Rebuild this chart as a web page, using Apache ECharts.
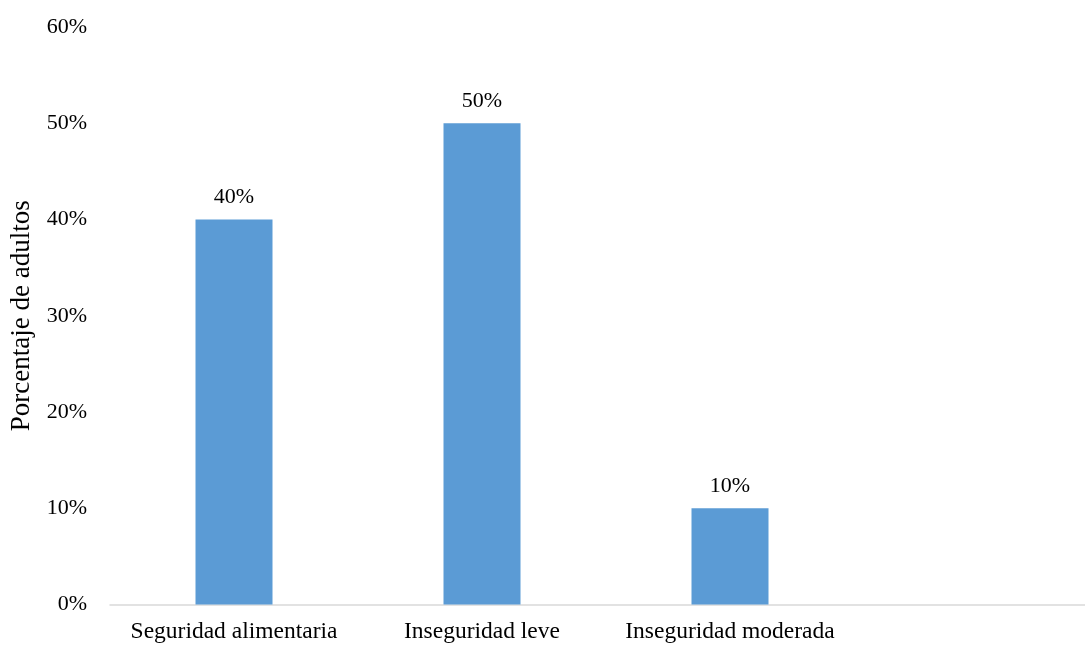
<!DOCTYPE html>
<html>
<head>
<meta charset="utf-8">
<script src="https://cdn.jsdelivr.net/npm/echarts@6/dist/echarts.min.js"></script>
<style>
html,body{margin:0;padding:0;background:#fff;overflow:hidden;}
#chart{width:1085px;height:646px;}
</style>
</head>
<body>
<div id="chart"></div>
<script>
const categories = ["Seguridad alimentaria", "Inseguridad leve", "Inseguridad moderada", ""];
const values = [40, 50, 10, null];
const yTicks = { min: 0, max: 60, interval: 10 };

const font = "'Liberation Serif', 'Times New Roman', serif";
const chart = echarts.init(document.getElementById('chart'));
chart.setOption({
  animation: false,
  textStyle: { fontFamily: font },
  grid: { left: 110, width: 992, top: 27, bottom: 41.5, containLabel: false, outerBoundsMode: 'none' },
  xAxis: {
    type: 'category',
    data: categories,
    axisLine: { lineStyle: { color: '#d9d9d9', width: 1.5 } },
    axisTick: { show: false },
    axisLabel: { color: '#000', fontSize: 23.5, fontFamily: font, margin: 15, interval: 0 }
  },
  yAxis: {
    type: 'value',
    min: yTicks.min, max: yTicks.max, interval: yTicks.interval,
    name: 'Porcentaje de adultos',
    nameLocation: 'middle',
    nameGap: 75,
    nameTextStyle: { color: '#000', fontSize: 27, fontFamily: font },
    axisLine: { show: false },
    axisTick: { show: false },
    splitLine: { show: false },
    axisLabel: { color: '#000', fontSize: 22, fontFamily: font, margin: 23, formatter: '{value}%' }
  },
  series: [{
    type: 'bar',
    data: values,
    barWidth: 77,
    itemStyle: { color: '#5b9bd5' },
    label: { show: true, position: 'top', distance: 11, color: '#000', fontSize: 22, fontFamily: font, formatter: '{c}%' }
  }]
});
</script>
</body>
</html>
